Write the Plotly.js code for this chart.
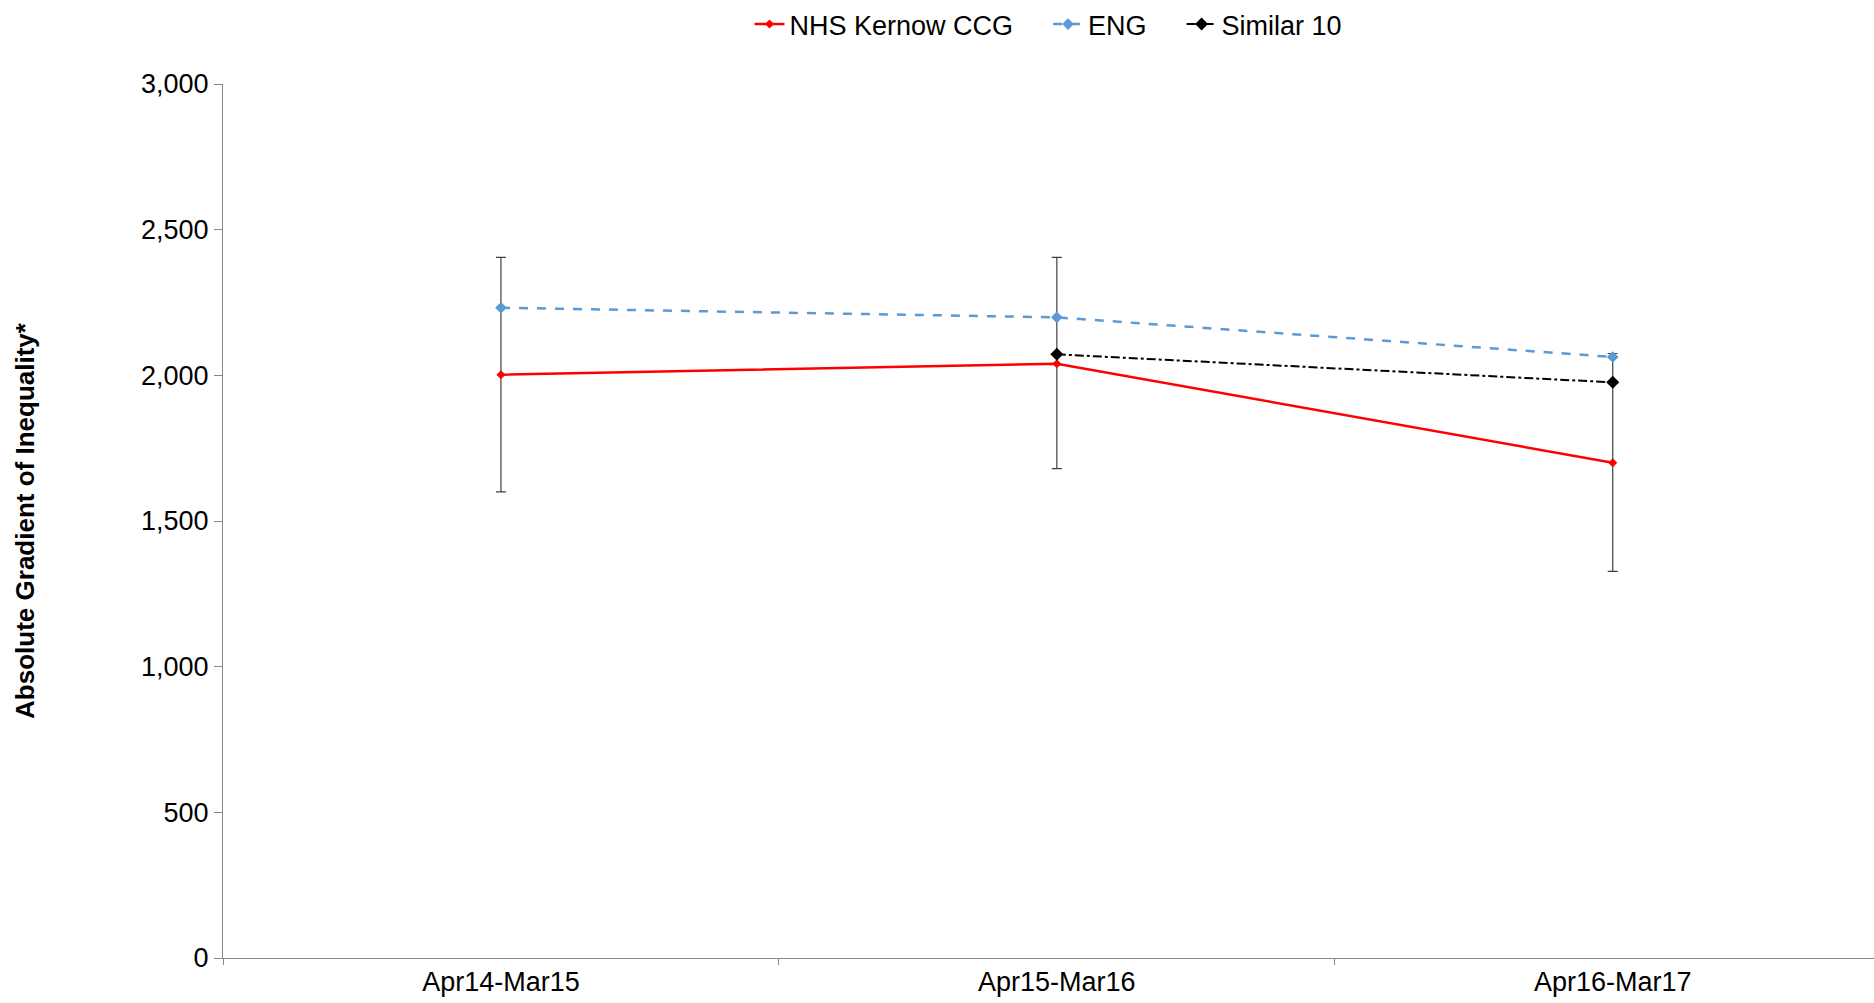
<!DOCTYPE html>
<html>
<head>
<meta charset="utf-8">
<script src="https://cdn.plot.ly/plotly-3.0.1.min.js"></script>
<style>body{margin:0;background:#fff}#plot{width:1874px;height:1003px}</style>
</head>
<body>
<div id="plot"></div>
<script>
const periods = ['Apr14-Mar15', 'Apr15-Mar16', 'Apr16-Mar17'];
const kernow = [2002, 2040, 1700];
const kernowUpper = [2405, 2405, 2075];
const kernowLower = [1600, 1680, 1327];
const eng = [2232, 2199, 2063];
const similar = [null, 2072, 1976];
const gap = '\u00a0\u00a0\u00a0\u00a0';

const traces = [
	{
		x: periods, y: kernow, name: 'NHS Kernow CCG' + gap, type: 'scatter', mode: 'lines+markers',
		line: {color: '#ff0000', width: 2.5},
		marker: {symbol: 'diamond', size: 7, color: '#ff0000'},
		error_y: {
			type: 'data', symmetric: false,
			array: kernowUpper.map(function (v, i) { return v - kernow[i]; }),
			arrayminus: kernow.map(function (v, i) { return v - kernowLower[i]; }),
			color: '#404040', thickness: 1.2, width: 5
		}
	},
	{
		x: periods, y: eng, name: 'ENG' + gap, type: 'scatter', mode: 'lines+markers',
		line: {color: '#5b9bd5', width: 2.5, dash: 'dash'},
		marker: {symbol: 'diamond', size: 9, color: '#5b9bd5'}
	},
	{
		x: periods, y: similar, name: 'Similar 10', type: 'scatter', mode: 'lines+markers',
		line: {color: '#000000', width: 2, dash: 'dashdot'},
		marker: {symbol: 'diamond', size: 10, color: '#000000'}
	}
];

const layout = {
	width: 1874, height: 1003,
	margin: {l: 223, r: 0, t: 84, b: 45},
	paper_bgcolor: '#fff', plot_bgcolor: '#fff',
	font: {family: 'Liberation Sans, Arial, sans-serif', size: 26, color: '#000'},
	showlegend: true,
	legend: {orientation: 'h', x: 0.5, xanchor: 'center', yref: 'container', y: 1, yanchor: 'top',
		font: {size: 27}},
	xaxis: {
		type: 'category', range: [-0.5, 2.47],
		showgrid: false, showline: true, linecolor: '#888', zeroline: false,
		ticks: 'outside', tickson: 'boundaries', ticklen: 6, tickcolor: '#888',
		tickfont: {size: 27}
	},
	yaxis: {
		range: [0, 3000], dtick: 500, tickformat: ',d',
		showgrid: false, showline: true, linecolor: '#888', zeroline: false,
		ticks: 'outside', ticklen: 8, tickcolor: '#888',
		tickfont: {size: 27},
		title: {text: '<b>Absolute Gradient of Inequality*</b>', font: {size: 26}, standoff: 98}
	}
};

Plotly.newPlot('plot', traces, layout, {displayModeBar: false});
</script>
</body>
</html>
